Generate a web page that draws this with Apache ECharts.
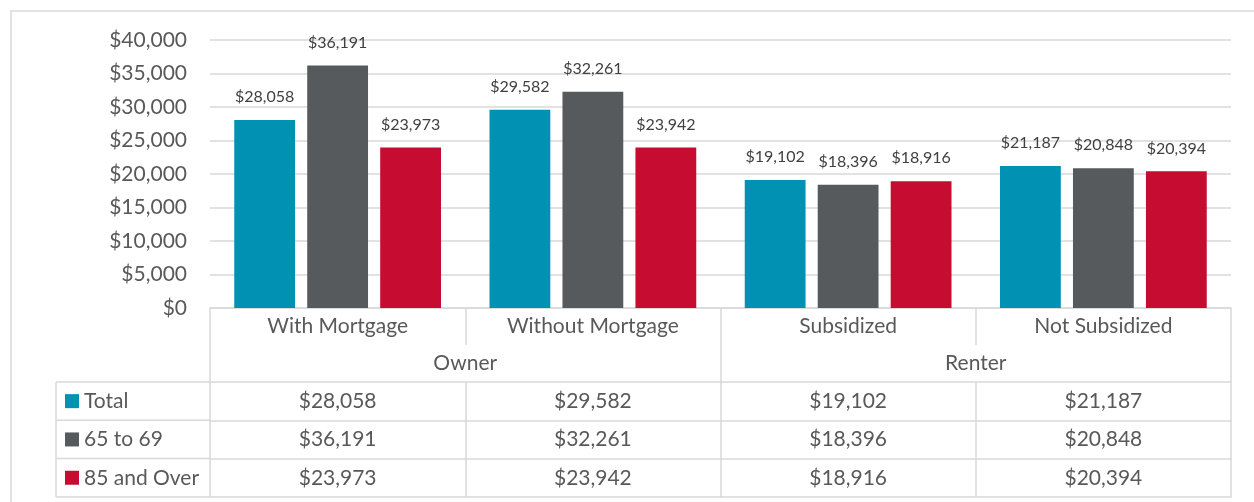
<!DOCTYPE html>
<html><head><meta charset="utf-8">
<script src="https://cdn.jsdelivr.net/npm/echarts@6/dist/echarts.min.js"></script>
<style>html,body{margin:0;padding:0;background:#fff}#c{width:1254px;height:502px}</style>
</head><body><div id="c"></div>
<script>
// ---- data ----
const categories = ['With Mortgage', 'Without Mortgage', 'Subsidized', 'Not Subsidized'];
const groups = ['Owner', 'Renter'];
const seriesNames = ['Total', '65 to 69', '85 and Over'];
const totalValues = [28058, 29582, 19102, 21187];
const age65to69Values = [36191, 32261, 18396, 20848];
const age85OverValues = [23973, 23942, 18916, 20394];
const yMin = 0, yMax = 40000, yStep = 5000;

// ---- style / layout ----
const seriesValues = [totalValues, age65to69Values, age85OverValues];
const colors = ['#0091B3', '#565A5C', '#C60C30'];
const FONT = 'Lato, "Open Sans", sans-serif';
const lineColor = '#d9d9d9';
const lw = 1.5;
const W = 1254, H = 502;
const gridLeft = 210, gridRight = 23, gridTop = 40, gridBottomY = 308;
const catRowH = 37, grpRowH = 37, dataRowH = 38.3;
const bigFont = 21, smallFont = 16;
const fmt = v => '$' + Number(v).toLocaleString('en-US');

const chart = echarts.init(document.getElementById('c'), null, {renderer: 'canvas'});

const baseAxis = {
  type: 'category', position: 'bottom', gridIndex: 0,
  axisLine: {show: true, onZero: false, lineStyle: {color: lineColor, width: lw}},
  splitLine: {show: false},
};
const xAxes = [];
// category row
xAxes.push(Object.assign({}, baseAxis, {
  data: categories, offset: 0,
  axisTick: {show: true, interval: 0, length: catRowH, lineStyle: {color: lineColor, width: lw}},
  axisLabel: {interval: 0, margin: catRowH / 2, verticalAlign: 'middle', fontSize: bigFont, color: '#595959', fontFamily: FONT}
}));
// group row
xAxes.push(Object.assign({}, baseAxis, {
  data: groups, offset: catRowH,
  axisLine: {show: false, onZero: false},
  axisTick: {show: true, interval: 0, length: grpRowH, lineStyle: {color: lineColor, width: lw}},
  axisLabel: {interval: 0, margin: grpRowH / 2, verticalAlign: 'middle', fontSize: bigFont, color: '#595959', fontFamily: FONT}
}));
// data rows
seriesValues.forEach((vals, i) => {
  xAxes.push(Object.assign({}, baseAxis, {
    data: categories, offset: catRowH + grpRowH + i * dataRowH,
    axisTick: {show: true, interval: 0, length: dataRowH, lineStyle: {color: lineColor, width: lw}},
    axisLabel: {interval: 0, margin: dataRowH / 2, verticalAlign: 'middle', fontSize: bigFont, color: '#595959', fontFamily: FONT,
      formatter: (v, idx) => fmt(vals[idx])}
  }));
});
// bottom border
xAxes.push(Object.assign({}, baseAxis, {
  data: categories, offset: catRowH + grpRowH + 3 * dataRowH,
  axisTick: {show: false}, axisLabel: {show: false}
}));

const tableTop = gridBottomY + catRowH + grpRowH;
const tableBottom = tableTop + 3 * dataRowH;
const legendLeftX = 56;
const graphics = [
  {type: 'rect', silent: true, shape: {x: 11, y: 11, width: W + 100, height: H + 100},
   style: {fill: 'none', stroke: lineColor, lineWidth: lw}},
  {type: 'line', silent: true, shape: {x1: legendLeftX, y1: tableTop, x2: legendLeftX, y2: tableBottom},
   style: {stroke: lineColor, lineWidth: lw}}
];
for (let i = 0; i <= 3; i++) {
  const y = tableTop + i * dataRowH;
  graphics.push({type: 'line', silent: true, shape: {x1: legendLeftX, y1: y, x2: gridLeft, y2: y},
    style: {stroke: lineColor, lineWidth: lw}});
}

const legends = seriesNames.map((n, i) => ({
  data: [n], orient: 'vertical', left: 65,
  top: tableTop + i * dataRowH + dataRowH / 2 - bigFont / 2,
  padding: 0, itemGap: 0, itemWidth: 14, itemHeight: 14, icon: 'rect', selectedMode: false,
  textStyle: {fontSize: bigFont, color: '#595959', fontFamily: FONT}
}));

chart.setOption({
  animation: false,
  textStyle: {fontFamily: FONT},
  color: colors,
  grid: {left: gridLeft, right: gridRight, top: gridTop, bottom: H - gridBottomY, containLabel: false, outerBoundsMode: 'none'},
  legend: legends,
  graphic: graphics,
  xAxis: xAxes,
  yAxis: {
    type: 'value', min: yMin, max: yMax, interval: yStep,
    axisLine: {show: false}, axisTick: {show: false},
    axisLabel: {formatter: fmt, fontSize: bigFont, color: '#595959', margin: 23, fontFamily: FONT},
    splitLine: {show: true, lineStyle: {color: lineColor, width: lw}}
  },
  series: seriesNames.map((n, i) => ({
    name: n, type: 'bar', xAxisIndex: 0, yAxisIndex: 0,
    data: seriesValues[i],
    barCategoryGap: '19%', barGap: '20%',
    itemStyle: {color: colors[i]},
    label: {show: true, position: 'top', distance: 15, formatter: p => fmt(p.value),
      fontSize: smallFont, color: '#404040', fontFamily: FONT}
  }))
});
</script></body></html>
